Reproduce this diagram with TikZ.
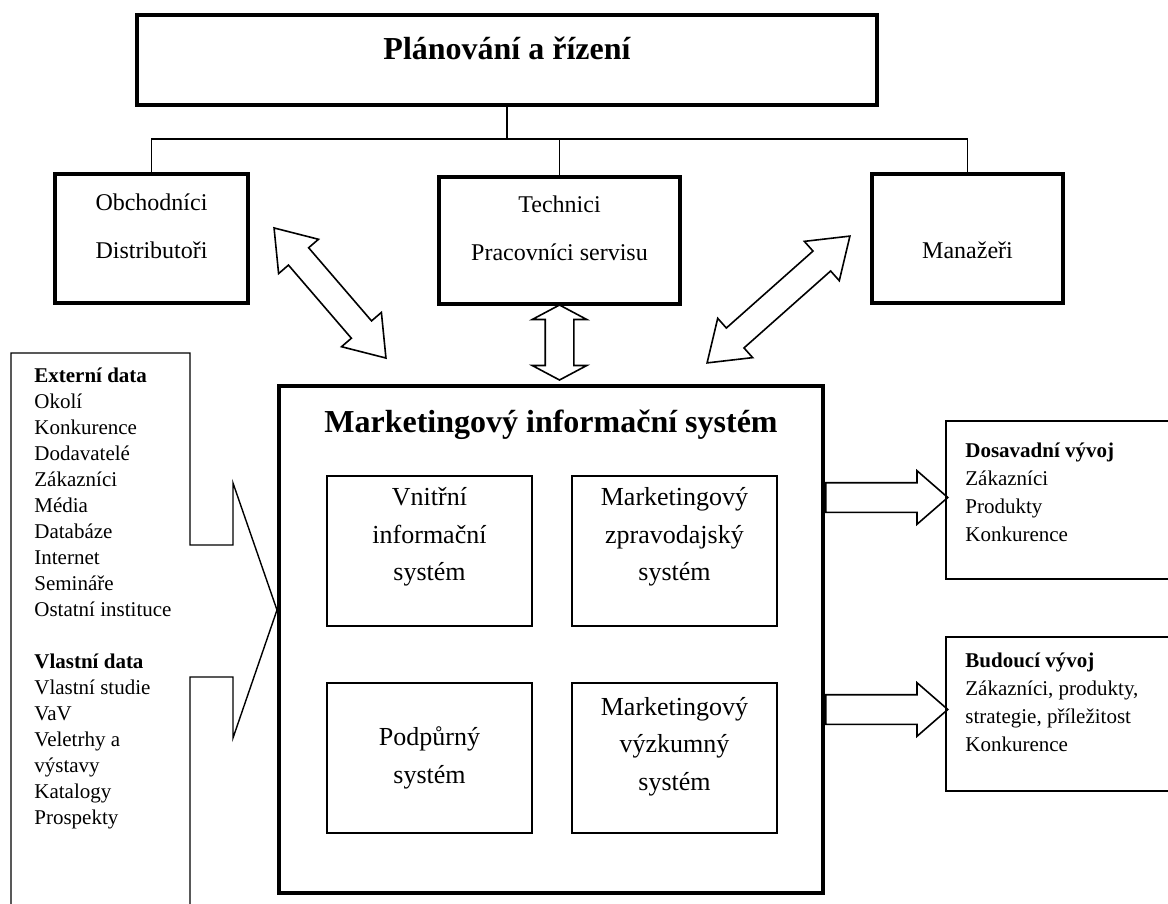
\documentclass[tikz,border=0pt]{standalone}
\usepackage{fontspec}
\setmainfont{Liberation Serif}
\usetikzlibrary{positioning,shapes.arrows}

\tikzset{
  headbox/.style={draw, line width=1.6pt, minimum width=370pt, minimum height=45pt},
  unitbox/.style={draw, line width=1.6pt, minimum height=64.5pt},
  unittext/.style={align=center, font=\fontsize{12pt}{24pt}\selectfont},
  misbox/.style={draw, line width=2pt, minimum width=272pt, minimum height=253.5pt},
  subbox/.style={draw, line width=1pt, minimum width=102.5pt, minimum height=75pt},
  subtext/.style={align=center, font=\fontsize{13pt}{18.75pt}\selectfont},
  bigtitle/.style={font=\fontsize{16pt}{19pt}\selectfont\bfseries},
  databox/.style={draw, line width=0.9pt, anchor=north west, minimum width=122.5pt},
  datatext/.style={align=left, anchor=north west, inner sep=0pt},
  link/.style={line width=0.8pt},
  fatarrow/.style={single arrow, draw, line width=0.8pt, inner xsep=0pt, inner ysep=7pt,
    minimum height=61pt, minimum width=26pt, single arrow head extend=6pt,
    single arrow tip angle=82, anchor=tail},
  twoway/.style={double arrow, draw, line width=0.8pt, inner xsep=0pt, inner ysep=6.25pt,
    minimum width=25.5pt, double arrow head extend=6.5pt, double arrow tip angle=70}
}

\begin{document}
\begin{tikzpicture}[x=0.5pt, y=-0.5pt]
\useasboundingbox (0,0) rectangle (1168,904);
%\draw [help lines, step=50] (0,0) grid (1168,904);

% planning and its three groups
\node [headbox] (plan) at (507,60) {};
\node [bigtitle] (plantxt) at ([yshift=6pt]plan.center) {Plánování a řízení};
\node [unitbox, minimum width=96.5pt] (obch) at (151.5,238.5) {};
\node [unitbox, minimum width=120.5pt, minimum height=63.5pt] (tech) at (559.5,240.5) {};
\node [unitbox, minimum width=95.5pt] (man) at (967.5,238.5) {};
\node [unittext] (obchtxt) at ([yshift=6pt]obch.center) {Obchodníci\\Distributoři};
\node [unittext] (techtxt) at ([yshift=6.25pt]tech.center) {Technici\\Pracovníci servisu};
\node [unittext] (mantxt) at ([yshift=-5.75pt]man.center) {Manažeři};

\coordinate (bus) at (507,139);
\draw [link] (plan.south) -- (bus);
\draw [link] (obch.north) |- (bus) -| (man.north);
\draw [link] (tech.north) -- (tech.north |- bus);

% marketing information system
\node [misbox] (mis) at (551,639.5) {};
\node [bigtitle] (mistxt) at (551,425) {Marketingový informační systém};
\node [subbox] (vnit) at (429.5,551) {};
\node [subbox] (zprav) at (674.5,551) {};
\node [subbox] (podp) at (429.5,758) {};
\node [subbox] (vyzk) at (674.5,758) {};
\node [subtext] (vnittxt) at ([yshift=7pt]vnit.center) {Vnitřní\\informační\\systém};
\node [subtext] (zpravtxt) at ([yshift=7pt]zprav.center) {Marketingový\\zpravodajský\\systém};
\node [subtext] (podptxt) at (podp.center) {Podpůrný\\systém};
\node [subtext] (vyzktxt) at ([yshift=5.75pt]vyzk.center) {Marketingový\\výzkumný\\systém};

% exchange with the three groups
\node [twoway, minimum height=85.8pt, rotate=-49.3] (obcharr) at (330,293) {};
\node [twoway, minimum height=37.5pt, inner ysep=6.75pt, minimum width=26.5pt,
  double arrow head extend=6.5pt, double arrow tip angle=124, rotate=90] (techarr) at (tech.south |- 0,342.5) {};
\node [twoway, minimum height=95.5pt, rotate=41.6] (manarr) at (778.5,299.5) {};

% sources of data
\coordinate (tip) at (mis.west |- 0,610);
\draw [line width=0.7pt] (11,920) -- (11,353) -- (190,353) -- (190,545) -- (233,545) -- (233,483)
  -- (tip) -- (233,738) -- (233,677) -- (190,677) -- (190,920);
\node [datatext, font=\fontsize{10.5pt}{13pt}\selectfont] (srctxt) at (34,368)
  {\textbf{Externí data}\\Okolí\\Konkurence\\Dodavatelé\\Zákazníci\\Média\\Databáze\\Internet\\Semináře\\Ostatní instituce\\[13pt]
   \textbf{Vlastní data}\\Vlastní studie\\VaV\\Veletrhy a\\výstavy\\Katalogy\\Prospekty};

% outputs
\node [databox, minimum height=79pt] (dos) at (945,420) {};
\node [databox, minimum height=77pt] (bud) at (945,636) {};
\node [datatext, font=\fontsize{10.5pt}{14pt}\selectfont] (dostxt) at (965,443)
  {\textbf{Dosavadní vývoj}\\Zákazníci\\Produkty\\Konkurence};
\node [datatext, font=\fontsize{10.5pt}{14pt}\selectfont] (budtxt) at (965,653)
  {\textbf{Budoucí vývoj}\\Zákazníci, produkty,\\strategie, příležitost\\Konkurence};
\node [fatarrow] (dosarr) at (mis.east |- 0,497.5) {};
\node [fatarrow] (budarr) at (mis.east |- 0,709.5) {};
\end{tikzpicture}
\end{document}
